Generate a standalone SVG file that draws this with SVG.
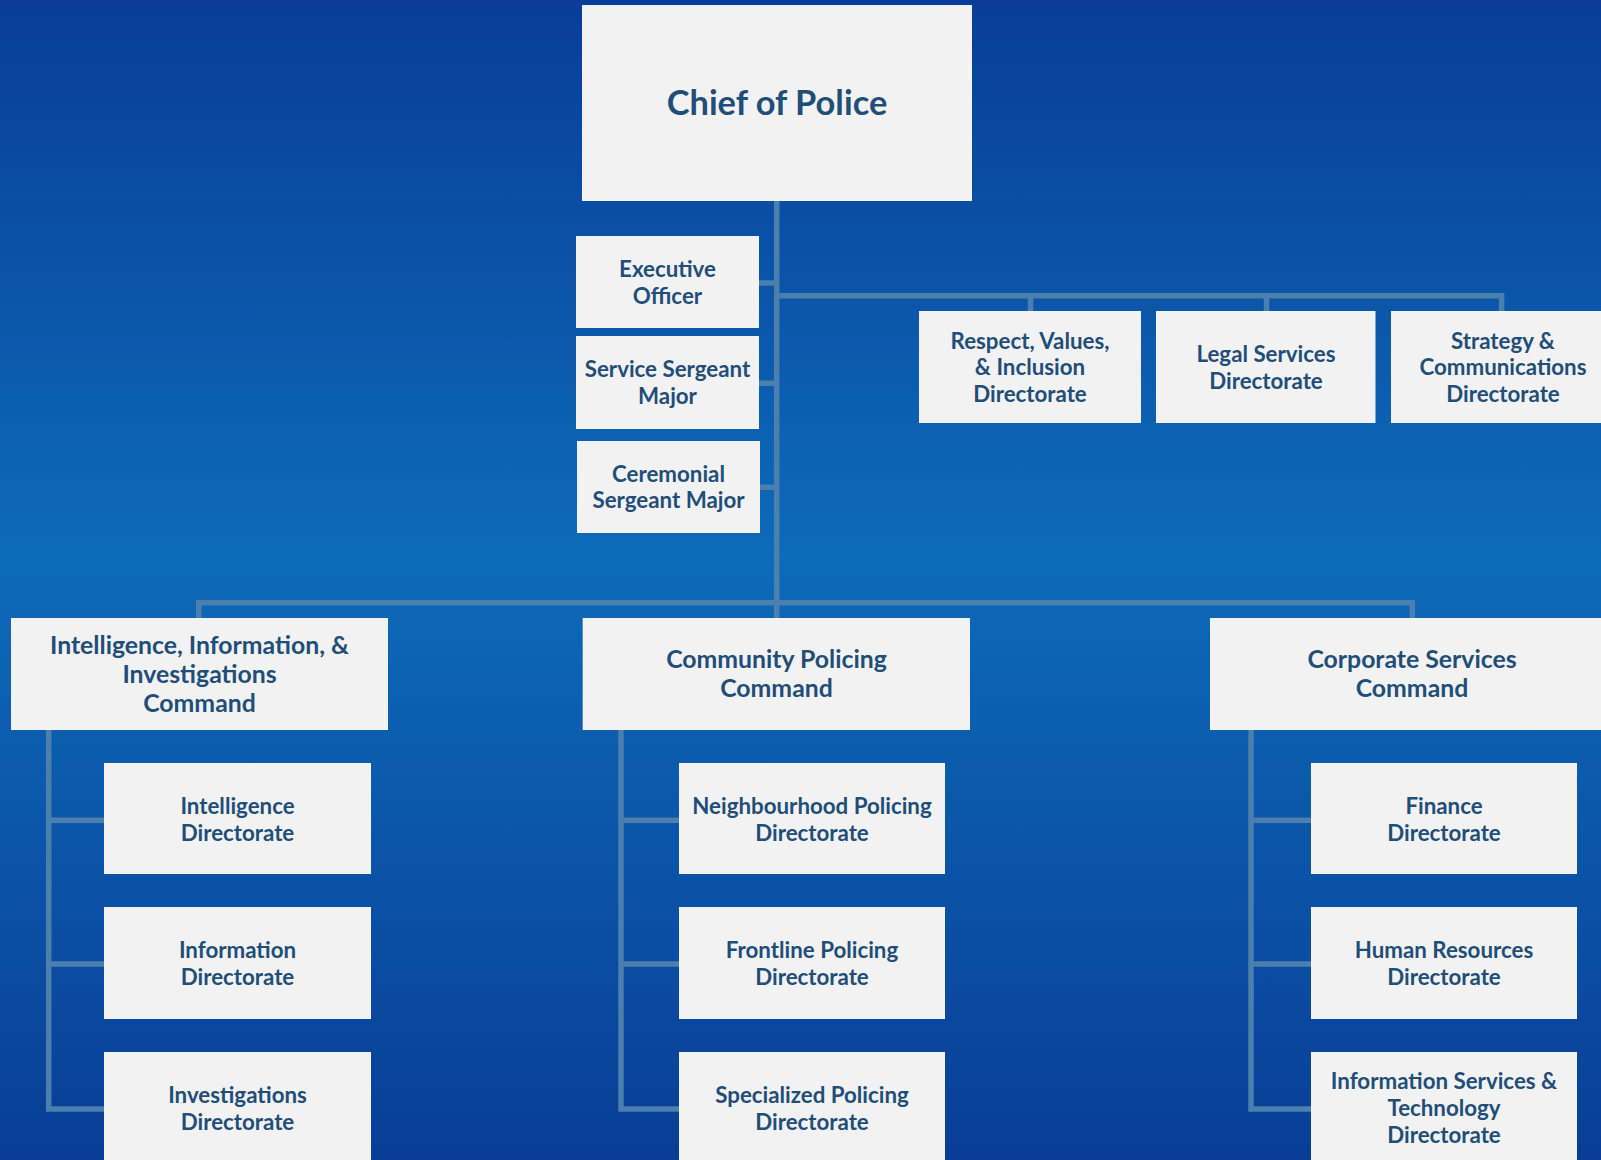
<svg xmlns="http://www.w3.org/2000/svg" width="1601" height="1160" viewBox="0 0 1601 1160">
<defs>
<linearGradient id="bg" x1="0" y1="0" x2="0" y2="1">
<stop offset="0" stop-color="#093d97"/>
<stop offset="0.48" stop-color="#0d6bb9"/>
<stop offset="1" stop-color="#093d96"/>
</linearGradient>
<style>
.box{fill:#f2f2f2}
text{font-family:Lato,"Liberation Sans",sans-serif;font-weight:bold;fill:#1f4e79;text-anchor:middle}
.t24{font-size:22.3px}
.t26{font-size:24.8px}
.t37{font-size:34.4px}
.ln{fill:none;stroke:#4b7fae;stroke-width:5.5;stroke-linejoin:miter}
</style>
</defs>
<rect x="0" y="0" width="1601" height="1160" fill="url(#bg)"/>
<g id="connectors">
<path class="ln" d="M776.7 201 V602.7"/>
<path class="ln" d="M759 283 H776.7 M759 383.3 H776.7 M760 487.3 H776.7"/>
<path class="ln" d="M776.7 295.7 H1501.6 V311 M1030.5 295.7 V311 M1266.5 295.7 V311"/>
<path class="ln" d="M198.7 618 V602.7 H1412.3 V618 M776.7 602.7 V618"/>
<path class="ln" d="M48.7 729.8 V1109 H104 M48.7 820.3 H104 M48.7 964 H104"/>
<path class="ln" d="M621 729.6 V1109 H679 M621 820.3 H679 M621 964 H679"/>
<path class="ln" d="M1251 729.6 V1109 H1311 M1251 820.3 H1311 M1251 964 H1311"/>
</g>
<g id="chief"><rect class="box" x="582" y="5" width="390" height="196"/><text class="t37" x="777" y="115">Chief of Police</text></g>
<g id="exec"><rect class="box" x="576" y="236" width="183" height="92"/><text class="t24" x="667.5" y="276.9">Executive</text><text class="t24" x="667.5" y="303.5">Officer</text></g>
<g id="ssm"><rect class="box" x="576" y="336" width="183" height="93"/><text class="t24" x="667.5" y="377.2">Service Sergeant</text><text class="t24" x="667.5" y="403.9">Major</text></g>
<g id="csm"><rect class="box" x="577" y="441" width="183" height="92"/><text class="t24" x="668.5" y="481.7">Ceremonial</text><text class="t24" x="668.5" y="508.4">Sergeant Major</text></g>
<g id="respect"><rect class="box" x="919" y="311" width="222" height="112"/><text class="t24" x="1030" y="348.6">Respect, Values,</text><text class="t24" x="1030" y="375.3">&amp; Inclusion</text><text class="t24" x="1030" y="402">Directorate</text></g>
<g id="legal"><rect class="box" x="1156" y="311" width="219.5" height="112"/><text class="t24" x="1266" y="362">Legal Services</text><text class="t24" x="1266" y="388.7">Directorate</text></g>
<g id="strategy"><rect class="box" x="1391" y="311" width="224" height="112"/><text class="t24" x="1503" y="348.6">Strategy &amp;</text><text class="t24" x="1503" y="375.3">Communications</text><text class="t24" x="1503" y="402">Directorate</text></g>
<g id="iiic"><rect class="box" x="11" y="618" width="377" height="112"/><text class="t26" x="199.5" y="653.5">Intelligence, Information, &amp;</text><text class="t26" x="199.5" y="682.9">Investigations</text><text class="t26" x="199.5" y="712.3">Command</text></g>
<g id="cpc"><rect class="box" x="582.7" y="618" width="387.3" height="112"/><text class="t26" x="776.5" y="668.3">Community Policing</text><text class="t26" x="776.5" y="697.3">Command</text></g>
<g id="csc"><rect class="box" x="1210" y="618" width="404" height="112"/><text class="t26" x="1412" y="668.3">Corporate Services</text><text class="t26" x="1412" y="697.3">Command</text></g>
<g id="intel"><rect class="box" x="104" y="763" width="267" height="111"/><text class="t24" x="237.5" y="813.5">Intelligence</text><text class="t24" x="237.5" y="840.5">Directorate</text></g>
<g id="info"><rect class="box" x="104" y="907" width="267" height="112"/><text class="t24" x="237.5" y="958">Information</text><text class="t24" x="237.5" y="985">Directorate</text></g>
<g id="invest"><rect class="box" x="104" y="1052" width="267" height="111"/><text class="t24" x="237.5" y="1102.5">Investigations</text><text class="t24" x="237.5" y="1129.5">Directorate</text></g>
<g id="neigh"><rect class="box" x="679" y="763" width="266" height="111"/><text class="t24" x="812" y="813.5">Neighbourhood Policing</text><text class="t24" x="812" y="840.5">Directorate</text></g>
<g id="front"><rect class="box" x="679" y="907" width="266" height="112"/><text class="t24" x="812" y="958">Frontline Policing</text><text class="t24" x="812" y="985">Directorate</text></g>
<g id="spec"><rect class="box" x="679" y="1052" width="266" height="111"/><text class="t24" x="812" y="1102.5">Specialized Policing</text><text class="t24" x="812" y="1129.5">Directorate</text></g>
<g id="finance"><rect class="box" x="1311" y="763" width="266" height="111"/><text class="t24" x="1444" y="813.5">Finance</text><text class="t24" x="1444" y="840.5">Directorate</text></g>
<g id="hr"><rect class="box" x="1311" y="907" width="266" height="112"/><text class="t24" x="1444" y="958">Human Resources</text><text class="t24" x="1444" y="985">Directorate</text></g>
<g id="ist"><rect class="box" x="1311" y="1052" width="266" height="111"/><text class="t24" x="1444" y="1089.2">Information Services &amp;</text><text class="t24" x="1444" y="1116">Technology</text><text class="t24" x="1444" y="1142.8">Directorate</text></g>
</svg>
